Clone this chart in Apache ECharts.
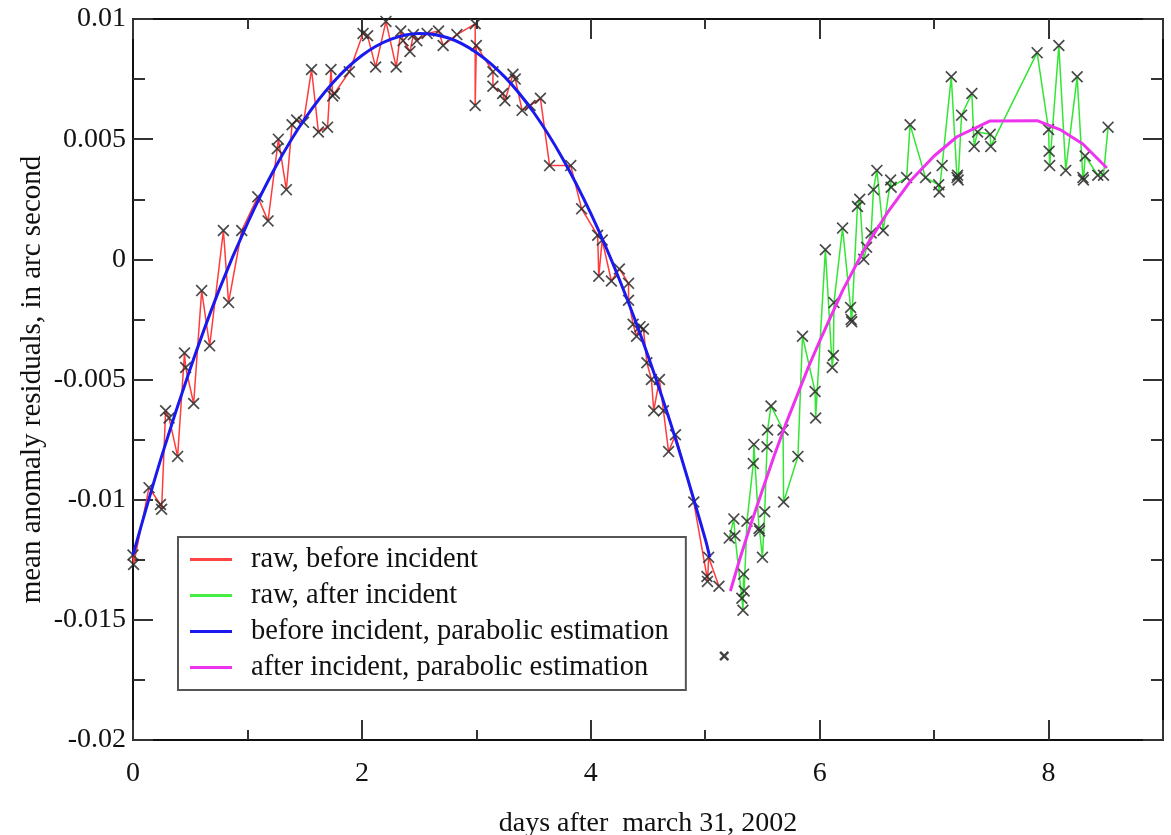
<!DOCTYPE html>
<html>
<head>
<meta charset="utf-8">
<script src="https://cdn.jsdelivr.net/npm/echarts@6/dist/echarts.min.js"></script>
<style>
  html, body { margin: 0; padding: 0; background: #ffffff; }
  #chart { width: 1171px; height: 835px; }
</style>
</head>
<body>
<div id="chart"></div>
<script>
// ---- data ----
const beforeDays = [0.00, 0.005, 0.14, 0.24, 0.25, 0.285, 0.315, 0.39, 0.45, 0.46, 0.53, 0.60, 0.67, 0.79, 0.835, 0.95, 1.09, 1.18, 1.26, 1.27, 1.34, 1.39, 1.43, 1.49, 1.56, 1.62, 1.70, 1.73, 1.745, 1.76, 1.89, 2.01, 2.05, 2.12, 2.21, 2.30, 2.34, 2.36, 2.42, 2.45, 2.48, 2.57, 2.67, 2.71, 2.83, 2.99, 2.99, 3.00, 3.145, 3.145, 3.23, 3.25, 3.32, 3.34, 3.40, 3.47, 3.56, 3.64, 3.825, 3.92, 4.06, 4.07, 4.10, 4.18, 4.25, 4.33, 4.33, 4.37, 4.40, 4.43, 4.46, 4.49, 4.53, 4.55, 4.60, 4.635, 4.68, 4.74, 4.90, 5.015, 5.02, 5.03, 5.12];
const beforeResiduals = [-0.0123, -0.0127, -0.0095, -0.0102, -0.0104, -0.0063, -0.0066, -0.0082, -0.0039, -0.0045, -0.0060, -0.0013, -0.0036, 0.0012, -0.0018, 0.0012, 0.0026, 0.0016, 0.0046, 0.0050, 0.0029, 0.0056, 0.0058, 0.0057, 0.0079, 0.0053, 0.0055, 0.0079, 0.0068, 0.0069, 0.0078, 0.0094, 0.0093, 0.0080, 0.0099, 0.0080, 0.0095, 0.0091, 0.00865, 0.00935, 0.0091, 0.0094, 0.0095, 0.0089, 0.00935, 0.0098, 0.0064, 0.0089, 0.0078, 0.0072, 0.0069, 0.0066, 0.0077, 0.0075, 0.0062, 0.0064, 0.0067, 0.0039, 0.0039, 0.0021, 0.0010, -0.0007, 0.0008, -0.0009, -0.0004, -0.0010, -0.0017, -0.0027, -0.0032, -0.0028, -0.0029, -0.0043, -0.0050, -0.0063, -0.0050, -0.0063, -0.0080, -0.0073, -0.0101, -0.0132, -0.0134, -0.0124, -0.0136];

const afterDays = [5.21, 5.25, 5.26, 5.32, 5.33, 5.335, 5.34, 5.365, 5.42, 5.425, 5.47, 5.475, 5.50, 5.52, 5.54, 5.545, 5.575, 5.68, 5.685, 5.81, 5.85, 5.96, 5.965, 6.05, 6.11, 6.12, 6.125, 6.20, 6.27, 6.275, 6.28, 6.33, 6.35, 6.385, 6.41, 6.45, 6.47, 6.50, 6.555, 6.62, 6.625, 6.76, 6.79, 6.925, 7.04, 7.045, 7.07, 7.15, 7.20, 7.205, 7.21, 7.24, 7.33, 7.35, 7.38, 7.49, 7.495, 7.90, 8.00, 8.005, 8.01, 8.09, 8.15, 8.25, 8.30, 8.305, 8.32, 8.43, 8.48, 8.52];
const afterResiduals = [-0.0116, -0.0108, -0.0115, -0.0141, -0.0146, -0.0131, -0.0138, -0.0109, -0.0085, -0.0077, -0.0112, -0.0113, -0.0124, -0.0105, -0.0078, -0.0071, -0.0061, -0.0071, -0.0101, -0.0082, -0.0032, -0.0055, -0.0066, 0.0004, -0.0045, -0.0040, -0.0018, 0.0013, -0.0020, -0.0025, -0.0026, 0.0022, 0.0025, 0.0000, 0.0005, 0.0011, 0.0029, 0.0037, 0.0012, 0.0033, 0.0030, 0.0034, 0.0056, 0.0034, 0.0031, 0.0028, 0.0039, 0.0076, 0.0034, 0.0035, 0.0033, 0.0060, 0.0069, 0.0047, 0.0053, 0.0052, 0.0047, 0.0086, 0.0054, 0.0045, 0.0039, 0.0089, 0.0037, 0.0076, 0.0034, 0.0033, 0.0043, 0.0035, 0.0035, 0.0055];

const beforeFitDays = [0, 0.25, 0.5, 0.75, 1.0, 1.25, 1.5, 1.75, 2.0, 2.25, 2.5, 2.75, 3.0, 3.25, 3.5, 3.75, 4.0, 4.25, 4.5, 4.75, 5.0, 5.04];
const beforeFitValues = [-0.0123, -0.0082, -0.00455, -0.0013, 0.0015, 0.00388, 0.00584, 0.00737, 0.00848, 0.00915, 0.0094, 0.00922, 0.00861, 0.00758, 0.00612, 0.00423, 0.00191, -0.00084, -0.00401, -0.00761, -0.01163, -0.0124];

const afterFitDays = [5.22, 5.3, 5.4, 5.5, 5.6, 5.7, 5.8, 5.9, 6.0, 6.2, 6.4, 6.6, 6.8, 7.0, 7.2, 7.49, 7.90, 8.1, 8.3, 8.51];
const afterFitValues = [-0.0138, -0.0125, -0.0110, -0.0096, -0.0082, -0.0069, -0.0057, -0.0045, -0.0034, -0.0013, 0.0005, 0.0020, 0.0033, 0.0043, 0.0051, 0.00576, 0.00577, 0.0054, 0.0048, 0.0038];

const outlierDays = [5.166];
const outlierResiduals = [-0.0165];

const seriesNames = ['raw, before incident', 'raw, after incident', 'before incident, parabolic estimation', 'after incident, parabolic estimation'];
const xTitle = 'days after  march 31, 2002';
const yTitle = 'mean anomaly residuals, in arc second';

// ---- helpers ----
const zip = (xs, ys) => xs.map((x, i) => [x, ys[i]]);
const serif = 'Liberation Serif';
const crossPath = 'path://M0,2L2,0L10,8L18,0L20,2L12,10L20,18L18,20L10,12L2,20L0,18L8,10Z';
const boldCross = 'path://M0,3.5L3.5,0L10,6.5L16.5,0L20,3.5L13.5,10L20,16.5L16.5,20L10,13.5L3.5,20L0,16.5L6.5,10Z';

const axisLineStyle = { color: '#111', width: 2 };
const tickStyle = { color: '#333', width: 2 };

function xAxisDef(pos, interval, len, withLabel) {
  const a = {
    type: 'value', position: pos, min: 0, max: 9, interval: interval,
    axisLine: { show: interval === 2, onZero: false, lineStyle: axisLineStyle },
    axisTick: { show: true, inside: true, length: len, lineStyle: tickStyle },
    axisLabel: { show: false },
    splitLine: { show: false }
  };
  if (withLabel) {
    a.axisLabel = {
      show: true, fontFamily: serif, fontSize: 28, color: '#111', margin: 20,
      formatter: v => (v === 9 ? '' : String(v))
    };
    a.name = xTitle;
    a.nameLocation = 'middle';
    a.nameGap = 70;
    a.nameMoveOverlap = false;
    a.nameTextStyle = { fontFamily: serif, fontSize: 28, color: '#111' };
  }
  return a;
}

function yAxisDef(pos, withLabel) {
  const a = {
    type: 'value', position: pos, min: -0.02, max: 0.01, interval: 0.005,
    axisLine: { show: true, onZero: false, lineStyle: axisLineStyle },
    axisTick: { show: true, inside: true, length: 20, lineStyle: tickStyle },
    minorTick: { show: true, splitNumber: 2, length: 12, lineStyle: tickStyle },
    axisLabel: { show: false },
    splitLine: { show: false }
  };
  if (withLabel) {
    a.axisLabel = {
      show: true, fontFamily: serif, fontSize: 28, color: '#111', margin: 7,
      formatter: v => String(+v.toFixed(4))
    };
    a.name = yTitle;
    a.nameLocation = 'middle';
    a.nameGap = 86;
    a.nameMoveOverlap = false;
    a.nameRotate = 90;
    a.nameTextStyle = { fontFamily: serif, fontSize: 29, color: '#111' };
  }
  return a;
}

const chart = echarts.init(document.getElementById('chart'), null, { renderer: 'canvas' });
chart.setOption({
  animation: false,
  backgroundColor: '#ffffff',
  grid: { left: 133, right: 8, top: 19, bottom: 95, containLabel: false, outerBoundsMode: 'none' },
  xAxis: [
    xAxisDef('bottom', 2, 20, true),
    xAxisDef('bottom', 1, 10, false),
    xAxisDef('top', 2, 20, false),
    xAxisDef('top', 1, 10, false)
  ],
  yAxis: [yAxisDef('left', true), yAxisDef('right', false)],
  legend: {
    left: 178, top: 537, orient: 'vertical',
    backgroundColor: '#ffffff', borderColor: '#555', borderWidth: 2, borderRadius: 0,
    padding: [8, 17, 8, 12], itemGap: 7, itemWidth: 42, itemHeight: 3, icon: 'rect',
    selectedMode: false,
    textStyle: { fontFamily: serif, fontSize: 28.5, color: '#111', lineHeight: 26, padding: [0, 0, 0, 14] },
    data: [
      { name: seriesNames[0], itemStyle: { color: '#ff4444' } },
      { name: seriesNames[1], itemStyle: { color: '#44ee44' } },
      { name: seriesNames[2], itemStyle: { color: '#1a1aee' } },
      { name: seriesNames[3], itemStyle: { color: '#ee33ee' } }
    ]
  },
  series: [
    {
      name: seriesNames[0], type: 'line', data: zip(beforeDays, beforeResiduals),
      showSymbol: false, lineStyle: { color: '#ff3b3b', width: 1.5 }, itemStyle: { color: '#ff3b3b' }, z: 2
    },
    {
      name: seriesNames[1], type: 'line', data: zip(afterDays, afterResiduals),
      showSymbol: false, lineStyle: { color: '#33e633', width: 1.5 }, itemStyle: { color: '#33e633' }, z: 2
    },
    {
      name: 'before markers', type: 'scatter', data: zip(beforeDays, beforeResiduals),
      symbol: crossPath, symbolSize: 12, itemStyle: { color: '#2a2a2a', opacity: 0.85 }, z: 3
    },
    {
      name: 'after markers', type: 'scatter', data: zip(afterDays, afterResiduals),
      symbol: crossPath, symbolSize: 12, itemStyle: { color: '#2a2a2a', opacity: 0.85 }, z: 3
    },
    {
      name: seriesNames[2], type: 'line', data: zip(beforeFitDays, beforeFitValues),
      showSymbol: false, smooth: 0.35, lineStyle: { color: '#1a1aee', width: 3 }, itemStyle: { color: '#1a1aee' }, z: 4
    },
    {
      name: seriesNames[3], type: 'line', data: zip(afterFitDays, afterFitValues),
      showSymbol: false, lineStyle: { color: '#ee33ee', width: 3 }, itemStyle: { color: '#ee33ee' }, z: 4
    },
    {
      name: 'outlier', type: 'scatter', data: zip(outlierDays, outlierResiduals),
      symbol: boldCross, symbolSize: 10, itemStyle: { color: '#111' }, z: 5
    }
  ]
});
</script>
</body>
</html>
